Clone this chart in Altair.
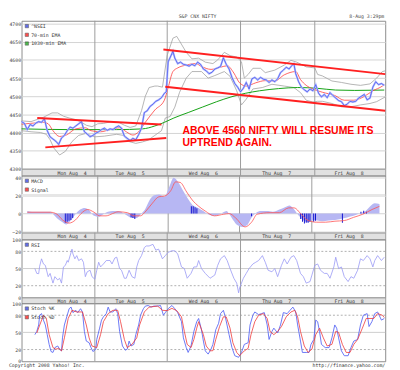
import altair as alt
import pandas as pd

# ---------------- data (x = intraday bar number, Monday open = 0) ----------------
X_END = 382
DAY_STARTS = [77, 153, 230, 308]
DAY_LABEL_BARS = [53, 114, 191, 268, 344]
DAY_LABELS = ["Mon Aug\u00a0 4", "Tue Aug\u00a0 5", "Wed Aug\u00a0 6", "Thu Aug\u00a0 7", "Fri Aug\u00a0 8"]

PRICE_TICKS = [4300, 4350, 4400, 4450, 4500, 4550, 4600, 4650, 4700]
MACD_TICKS = [-20, 0, 20, 40]
OSC_TICKS = [0, 20, 50, 80, 100]
OSC_DASHED = [20, 80]
OSC_SOLID = [50]

PRICE_BARS = [0, 3, 6, 9, 12, 15, 18, 21, 24, 27, 30, 33, 36, 39, 42, 45, 48, 51, 54, 57, 60, 63, 66, 69, 72, 75,
              78, 81, 84, 87, 90, 93, 96, 99, 102, 105, 108, 111, 114, 117, 120, 123, 126, 129, 132, 135, 138, 141, 144, 147, 150, 152,
              154, 157, 159, 161, 164, 167, 170, 173, 176, 179, 182, 185, 188, 191, 194, 197, 200, 203, 206, 209, 212, 215, 218, 221, 224, 227, 230,
              233, 236, 239, 242, 245, 248, 251, 254, 257, 260, 263, 266, 269, 272, 275, 278, 281, 284, 286, 288, 291, 294, 297, 300, 303, 306,
              309, 312, 315, 318, 321, 324, 327, 330, 333, 336, 339, 342, 345, 348, 351, 354, 357, 360, 363, 366, 369, 372, 375, 378, 381]
PRICE = [4430, 4425, 4408, 4422, 4418, 4426, 4430, 4428, 4438, 4405, 4388, 4382, 4376, 4367, 4385, 4392, 4405, 4415, 4412, 4418, 4424, 4430, 4402, 4396, 4388, 4392,
         4398, 4402, 4408, 4412, 4406, 4410, 4408, 4414, 4418, 4412, 4390, 4384, 4378, 4384, 4380, 4394, 4412, 4455, 4460, 4472, 4478, 4486, 4490, 4496, 4508, 4512,
         4595, 4612, 4624, 4605, 4590, 4594, 4588, 4586, 4583, 4588, 4584, 4594, 4588, 4575, 4570, 4562, 4566, 4575, 4578, 4582, 4606, 4588, 4575, 4552, 4535, 4525, 4512,
         4522, 4538, 4520, 4548, 4552, 4545, 4552, 4547, 4545, 4538, 4545, 4540, 4548, 4565, 4572, 4580, 4575, 4585, 4590, 4562, 4540, 4525, 4518, 4512, 4520, 4515,
         4532, 4508, 4498, 4505, 4496, 4510, 4502, 4495, 4488, 4485, 4474, 4478, 4486, 4484, 4486, 4495, 4500, 4505, 4490, 4495, 4525, 4540, 4532, 4535, 4530]

EMA70_BARS = [0, 13, 23, 28, 33, 40, 47, 57, 67, 73, 83, 93, 103, 110, 117, 123, 130, 140, 150, 154,
              159, 164, 173, 183, 189, 199, 209, 216, 223, 229, 236, 246, 256, 266, 276, 288, 293, 299, 306, 316,
              329, 339, 349, 359, 369, 379, 381]
EMA70 = [4423, 4426, 4428, 4424, 4405, 4389, 4393, 4410, 4413, 4405, 4402, 4408, 4413, 4402, 4393, 4402, 4428, 4462, 4489, 4524,
         4568, 4578, 4586, 4590, 4582, 4574, 4580, 4584, 4564, 4537, 4528, 4537, 4543, 4542, 4559, 4568, 4546, 4530, 4520, 4511,
         4502, 4489, 4489, 4498, 4515, 4528, 4532]

EMA1030_BARS = [0, 50, 100, 127, 140, 150, 160, 175, 190, 205, 220, 235, 250, 270, 290, 310, 330, 350, 381]
EMA1030 = [4410, 4408, 4408, 4410, 4418, 4428, 4440, 4455, 4470, 4485, 4498, 4508, 4515, 4521, 4524, 4522, 4517, 4516, 4517]

BB_UP_BARS = [0, 10, 23, 32, 38, 44, 50, 56, 62, 68, 74, 80, 86, 94, 102, 108, 114, 120, 126, 130,
              134, 140, 143, 148, 153, 159, 163, 166, 173, 179, 186, 193, 201, 206, 213, 219, 226, 231, 234, 238,
              243, 251, 256, 266, 276, 283, 289, 299, 308, 311, 316, 326, 336, 346, 356, 366, 373, 379, 382]
BB_UP = [4432, 4430, 4442, 4454, 4454, 4445, 4440, 4436, 4430, 4420, 4416, 4424, 4425, 4430, 4428, 4420, 4414, 4418, 4460, 4500,
         4524, 4528, 4528, 4525, 4613, 4660, 4665, 4652, 4621, 4603, 4605, 4594, 4590, 4600, 4621, 4612, 4608, 4595, 4550, 4560,
         4577, 4577, 4565, 4572, 4586, 4599, 4594, 4581, 4578, 4560, 4556, 4542, 4538, 4533, 4530, 4534, 4550, 4568, 4570]

BB_LO_BARS = [0, 10, 20, 26, 30, 34, 40, 46, 53, 60, 67, 77, 87, 100, 107, 113, 120, 127, 133, 140,
              147, 151, 156, 161, 166, 173, 179, 189, 196, 203, 213, 219, 226, 231, 236, 243, 253, 263, 276, 286,
              293, 299, 306, 311, 316, 326, 336, 346, 356, 366, 373, 382]
BB_LO = [4405, 4402, 4400, 4395, 4380, 4357, 4338, 4348, 4375, 4392, 4397, 4388, 4390, 4395, 4392, 4375, 4370, 4374, 4379, 4392,
         4405, 4440, 4444, 4470, 4511, 4550, 4568, 4568, 4550, 4557, 4568, 4555, 4515, 4476, 4492, 4520, 4524, 4533, 4528, 4524,
         4510, 4489, 4484, 4486, 4486, 4480, 4471, 4471, 4476, 4480, 4485, 4498]

TREND_ID = [1, 1, 2, 2, 3, 3, 4, 4]
TREND_BARS = [16.5, 147, 25, 152, 149, 382, 151, 382]
TREND_PRICE = [4440, 4422, 4359, 4385, 4629, 4561, 4526, 4460]

ANNOT_TEXT = ["ABOVE 4560 NIFTY WILL RESUME ITS", "UPTREND AGAIN."]
ANNOT_BARS = [169, 169]
ANNOT_PRICE = [4395, 4363]

MACD_BARS = [1, 6, 16, 26, 29, 34, 39, 43, 48, 53, 58, 63, 68, 73, 78, 83, 88, 93, 99, 104,
             109, 114, 119, 124, 128, 133, 138, 143, 149, 154, 159, 164, 169, 174, 179, 186, 191, 196, 203, 209,
             216, 219, 223, 228, 233, 238, 243, 248, 253, 259, 266, 273, 279, 284, 289, 294, 299, 304, 309, 314,
             319, 326, 333, 339, 346, 353, 359, 366, 371, 376, 381]
MACD = [2.8, 2, 2, 2, -0.7, -6, -9.5, -12, -7.7, -0.7, 4.5, 6.3, 3.5, -2.5, -3.5, -0.7, 2, 2.8, 2.8, 1,
        -2.5, -5, -5, 0, 4.5, 15, 20.3, 21, 18.6, 29, 39.6, 34.4, 25.6, 16.8, 9.8, 6, 2.8, -0.7, -2.5, -0.7,
        2.8, -0.7, -7, -13, -14.7, -13, -4.2, 1, 2.8, 2.8, 2, 4.5, 7, 9, 4.5, -2.5, -7.7, -9.5, -7, -7.7,
        -8.4, -7.7, -7, -6, -4.2, -2.5, 0, 2.8, 8, 11.5, 10.5]

SIGNAL_BARS = [1, 26, 33, 39, 46, 53, 59, 66, 73, 79, 86, 93, 99, 109, 116, 123, 129, 136, 143, 149,
               156, 161, 166, 173, 179, 186, 193, 203, 213, 219, 226, 236, 243, 249, 263, 273, 283, 289, 296, 303,
               313, 323, 333, 343, 353, 363, 373, 381]
SIGNAL = [1.5, 1.5, -0.7, -7, -10.5, -7, 0, 4.5, 1.5, -2.5, -2.5, 0, 2, 1, -2.5, -2.5, 2.8, 11.5, 18.6, 19.3,
          25.6, 35, 34.4, 23.8, 15, 8, 2.8, -2.5, -0.7, 0, -5, -14.7, -9.5, -0.7, 1, 1, 6.3, 6.3, 0, -7,
          -9.5, -9.5, -8.4, -7.7, -4.2, -0.7, 4.5, 8]

HIST_BARS = [42, 44, 46, 48, 50, 113, 115, 117, 178, 180, 182, 184, 243, 296, 298, 300, 302, 304, 306, 310, 312, 341, 361, 364, 367]
HIST = [-10, -9, -8, -7, -5, -4, -5, -6, 8, 8, 7, 6, -3, -6, -9, -11, -10, -10, -9, -9, -8, -10, 2, 3, 2]

RSI_BARS = [14, 16, 18, 19, 21, 23, 25, 28, 30, 33, 35, 38, 40, 42, 44, 46, 48, 49, 53, 54,
            56, 58, 60, 63, 65, 67, 69, 72, 74, 77, 79, 81, 83, 86, 89, 93, 95, 98, 100, 103,
            105, 108, 110, 113, 116, 119, 121, 123, 126, 129, 131, 134, 138, 141, 144, 148, 151, 154, 158, 161,
            164, 168, 171, 174, 178, 181, 184, 186, 189, 193, 198, 203, 206, 209, 213, 216, 219, 223, 226, 228,
            229, 233, 236, 239, 243, 246, 249, 253, 256, 259, 263, 266, 269, 273, 276, 279, 283, 286, 289, 293,
            296, 299, 303, 305, 308, 311, 314, 318, 321, 324, 328, 330, 333, 336, 339, 343, 346, 349, 353, 356,
            359, 363, 366, 369, 371, 374, 378, 381]
RSI = [50, 41.5, 41, 54, 67, 58, 55.5, 35.8, 41.5, 24.5, 35.8, 30, 33, 24.5, 52.8, 55.5, 64, 61, 83.9, 75.5,
       67, 72.6, 64, 67, 61, 35.8, 44.3, 47, 35.8, 31.3, 47, 61, 52.8, 58, 64, 64, 58, 68.5, 69.8, 50,
       47, 33, 33, 47, 35.8, 33, 52.8, 64, 72.6, 86.7, 89.5, 89.5, 92.3, 82.2, 83.9, 67, 72.6, 78.3, 81.1, 81,
       75.5, 52.8, 50, 33, 41.5, 52.8, 52.8, 64, 50, 41.5, 33, 38.6, 55.5, 67, 72.6, 64, 50, 33, 24.5, 7.5,
       16, 33, 41.5, 50, 58, 61, 64, 72.6, 61, 47, 44.3, 50, 35.8, 55.5, 67, 58, 69.8, 72.6, 64, 41.5,
       35.8, 24.5, 27.2, 38.6, 55.5, 58, 47, 41.5, 41.5, 33, 52.8, 69.8, 50, 52.8, 35.8, 27.2, 35.8, 33, 47, 67,
       64, 72.6, 67, 52.8, 64, 72.6, 64, 69.8]

STK_BARS = [14, 16, 18, 19, 21, 23, 25, 27, 29, 31, 33, 35, 38, 40, 42, 43, 45, 48, 50, 52,
            54, 57, 59, 62, 64, 66, 68, 71, 73, 75, 78, 79, 82, 84, 86, 89, 91, 93, 96, 99,
            101, 103, 106, 109, 111, 113, 115, 118, 120, 123, 125, 128, 130, 133, 136, 139, 143, 146, 149, 151,
            154, 158, 161, 164, 168, 170, 173, 175, 178, 181, 184, 186, 189, 191, 193, 196, 199, 201, 204, 207,
            209, 212, 214, 218, 221, 224, 228, 231, 234, 238, 240, 243, 245, 249, 252, 255, 258, 260, 263, 265,
            269, 272, 275, 279, 282, 285, 288, 290, 293, 295, 299, 302, 304, 307, 309, 311, 313, 315, 319, 323,
            326, 329, 331, 333, 336, 339, 343, 346, 349, 353, 356, 359, 363, 365, 368, 371, 374, 378, 381]
STK = [46, 51.7, 63, 80, 82.8, 71.5, 63, 46, 29, 16.5, 14.9, 23.4, 26.2, 20.6, 17.7, 40.4, 63, 80, 91.4, 94.2,
       84.6, 88.6, 84.6, 91.4, 85.7, 51.7, 34.8, 31.9, 23.4, 16.5, 20.6, 37.6, 57.4, 71.5, 77.2, 82.8, 94.2, 85.7, 85.7, 91.4,
       82.8, 51.7, 26.2, 18.8, 20.6, 34.8, 26.2, 29, 46, 63, 80, 91.4, 95.9, 97, 94.2, 96, 96, 97, 80, 84.6,
       91.4, 97, 91.4, 84.6, 68.7, 40.4, 23.4, 14.9, 26.2, 51.7, 68.7, 74.3, 54.5, 34.8, 17.7, 12, 20.6, 29, 54.5, 65.9,
       82.8, 88.6, 77.2, 46, 23.4, 9.2, 6.4, 14.9, 29, 31.9, 63, 80, 85.7, 81.1, 82.8, 84.6, 63, 37.6, 51.7, 57.4,
       48.9, 63, 84.6, 82.8, 88.6, 94.2, 85.7, 63, 34.8, 14.9, 14.9, 14.9, 29, 37.6, 71.5, 68.7, 51.7, 29, 23.4, 23.4,
       40.4, 63, 57.4, 40.4, 17.7, 9.2, 9.2, 23.4, 34.8, 37.6, 63, 80, 82.8, 60.2, 68.7, 82.8, 85.7, 71.5, 74.3]

STD_BARS = [16, 23, 26, 29, 33, 36, 39, 42, 45, 49, 53, 58, 64, 68, 71, 74, 79, 83, 86, 91,
            96, 101, 104, 108, 111, 116, 121, 124, 129, 134, 143, 148, 153, 158, 163, 168, 171, 174, 178, 181,
            184, 186, 191, 194, 198, 201, 204, 208, 212, 215, 219, 222, 226, 229, 234, 238, 241, 245, 249, 254,
            258, 261, 265, 269, 273, 278, 283, 287, 290, 293, 297, 301, 305, 309, 313, 317, 321, 326, 330, 333,
            337, 341, 345, 349, 353, 358, 362, 366, 370, 374, 379, 381]
STD = [48.9, 80, 75, 46, 23.4, 20.6, 22, 17.7, 40.4, 74.3, 88.6, 85.7, 85.7, 63, 40.4, 26.2, 23.4, 46, 68.7, 82.8,
       88.6, 88.6, 68.7, 37.6, 23.4, 29, 40.4, 63, 85.7, 94.2, 96, 88.6, 88, 92, 88, 77.2, 51.7, 29, 23.4, 37.6,
       57.4, 68.7, 46, 26.2, 17.7, 18, 37.6, 60.2, 77.2, 77, 57.4, 31.9, 14.9, 9.2, 17.7, 22, 46, 68.7, 80, 82.8,
       74.3, 51.7, 46, 51.7, 60.2, 77.2, 85.7, 88.6, 77.2, 51.7, 26.2, 14.9, 20.6, 46, 57.4, 40.4, 26.2, 29, 51.7, 50,
       29, 14.9, 14.9, 29, 37.6, 57.4, 74.3, 74.3, 74.3, 82.8, 80, 76]

PRICE_LEGEND = ["^NSEI", "70-min EMA", "1030-min EMA"]
MACD_LEGEND = ["MACD", "Signal"]
RSI_LEGEND = ["RSI"]
STOCH_LEGEND = ["Stoch %K", "Stoch %D"]

# ---------------- styling ----------------
FONT = "DejaVu Sans Mono"
W = 376
BLUE = "#1f2fe0"
RED = "#ff2020"
GREEN = "#10a010"
BORDER = "#8a8a8a"
xs = alt.Scale(domain=[0, X_END], nice=False, zero=False)


def X(field="bar"):
    return alt.X(f"{field}:Q", scale=xs, axis=None)


def yaxis(ticks, grid, fmt=None):
    kw = dict(values=ticks, grid=grid, labelOverlap=False, labelFont=FONT, labelFontSize=5,
              labelColor="#444", ticks=False, domain=False, labelPadding=1,
              gridColor="#d2d2d2", gridWidth=1)
    if fmt:
        kw["format"] = fmt
    return alt.Axis(**kw)


def sep_layer():
    return alt.Chart(pd.DataFrame({"bar": DAY_STARTS})).mark_rule(color="#9a9a9a", strokeWidth=1).encode(x=X())


def series_df(bars, vals):
    return pd.DataFrame({"bar": bars, "v": vals})


def legend_layer(names, colors, ys, yval):
    df = pd.DataFrame({"series": names, "bar": [-20] * len(names), "v": [yval] * len(names)})
    return alt.Chart(df).mark_square(clip=True).encode(
        x=X(), y=ys,
        color=alt.Color("series:N", scale=alt.Scale(domain=names, range=colors),
                        legend=alt.Legend(orient="top-left", title=None, offset=2, padding=1,
                                          labelFont=FONT, labelFontSize=5, labelColor="#333",
                                          symbolType="square", symbolSize=12, symbolStrokeColor="#222",
                                          symbolStrokeWidth=0.6, rowPadding=2, labelOffset=2)))


# ---------------- price panel ----------------
yP = alt.Scale(domain=[4300, 4708], nice=False, zero=False)
YP = alt.Y("v:Q", scale=yP, title=None, axis=yaxis(PRICE_TICKS, True, "d"))

bb = pd.concat([series_df(BB_UP_BARS, BB_UP).assign(k="up"), series_df(BB_LO_BARS, BB_LO).assign(k="lo")])
trend = pd.DataFrame({"id": TREND_ID, "bar": TREND_BARS, "v": TREND_PRICE})
annot = pd.DataFrame({"t": ANNOT_TEXT, "bar": ANNOT_BARS, "v": ANNOT_PRICE})
pdf = series_df(PRICE_BARS, PRICE)

price = alt.layer(
    sep_layer(),
    alt.Chart(bb).mark_line(color="#a0a0a0", strokeWidth=0.8).encode(x=X(), y=YP, detail="k:N"),
    alt.Chart(series_df(EMA1030_BARS, EMA1030)).mark_line(color=GREEN, strokeWidth=1, interpolate="monotone").encode(x=X(), y=YP),
    alt.Chart(series_df(EMA70_BARS, EMA70)).mark_line(color="#ff3a3a", strokeWidth=0.8, interpolate="monotone").encode(x=X(), y=YP),
    alt.Chart(pdf).mark_line(color="#b4bbff", strokeWidth=2).encode(x=X(), y=YP),
    alt.Chart(pdf).mark_line(color="#2a3be6", strokeWidth=0.6).encode(x=X(), y=YP),
    alt.Chart(trend).mark_line(color=RED, strokeWidth=2).encode(x=X(), y=YP, detail="id:N"),
    alt.Chart(annot).mark_text(font="Liberation Sans", fontWeight="bold", fontSize=10.8, color="#ff0000",
                               align="left", baseline="alphabetic").encode(x=X(), y=YP, text="t:N"),
    legend_layer(PRICE_LEGEND, [BLUE, "#ff0000", "#00a000"], YP, 4500),
    alt.Chart(pd.DataFrame({"t": ["S&P CNX NIFTY"]})).mark_text(font=FONT, fontSize=5, color="#444", baseline="bottom").encode(
        text="t:N", x=alt.value(182), y=alt.value(-1.5)),
    alt.Chart(pd.DataFrame({"t": ["8-Aug 3:29pm"]})).mark_text(font=FONT, fontSize=5, color="#444", baseline="bottom", align="right").encode(
        text="t:N", x=alt.value(W - 1), y=alt.value(-1.5)),
).properties(width=W, height=153, view=alt.ViewBackground(stroke=BORDER))


# ---------------- date bands ----------------
def band(h):
    lab = pd.DataFrame({"bar": DAY_LABEL_BARS, "t": DAY_LABELS})
    return alt.layer(
        sep_layer(),
        alt.Chart(lab).mark_text(font=FONT, fontSize=5, color="#333", baseline="middle").encode(
            x=X(), y=alt.value(h / 2 + 0.5), text="t:N"),
    ).properties(width=W, height=h, view=alt.ViewBackground(fill="#e1e1e1", stroke="#999999", strokeWidth=1))


# ---------------- MACD panel ----------------
yM = alt.Scale(domain=[-21, 42], nice=False, zero=False)
YM = alt.Y("v:Q", scale=yM, title=None, axis=yaxis(MACD_TICKS, True))
macd = alt.layer(
    alt.Chart(pd.DataFrame({"v": [20]})).mark_rule(color="#e6e6e6", strokeWidth=3).encode(y=YM),
    sep_layer(),
    alt.Chart(series_df(MACD_BARS, MACD)).mark_area(color="#b7b7f3", opacity=1, interpolate="monotone").encode(
        x=X(), y=YM, y2=alt.datum(0)),
    alt.Chart(series_df(HIST_BARS, HIST)).mark_bar(color="#1010d0", width=1).encode(x=X(), y=YM, y2=alt.datum(0)),
    alt.Chart(series_df(SIGNAL_BARS, SIGNAL)).mark_line(color="#ff5050", strokeWidth=0.8, interpolate="monotone").encode(x=X(), y=YM),
    legend_layer(MACD_LEGEND, [BLUE, "#ff0000"], YM, 0),
).properties(width=W, height=59, view=alt.ViewBackground(stroke=BORDER))


# ---------------- oscillator panels ----------------
def osc_panel(layers, legend_names, legend_colors):
    yO = alt.Scale(domain=[-0.5, 101], nice=False, zero=False)
    YO = alt.Y("v:Q", scale=yO, title=None, axis=yaxis(OSC_TICKS, False))
    base = [
        alt.Chart(pd.DataFrame({"v": OSC_SOLID})).mark_rule(color="#cccccc", strokeWidth=1).encode(y=YO),
        alt.Chart(pd.DataFrame({"v": OSC_DASHED})).mark_rule(color="#9a9a9a", strokeWidth=0.8, strokeDash=[2, 2]).encode(y=YO),
        sep_layer(),
    ]
    lines = [alt.Chart(df).mark_line(color=c, strokeWidth=w).encode(x=X(), y=YO) for df, c, w in layers]
    return alt.layer(*base, *lines, legend_layer(legend_names, legend_colors, YO, 50)).properties(
        width=W, height=60, view=alt.ViewBackground(stroke=BORDER))


rsi = osc_panel([(series_df(RSI_BARS, RSI), "#9898f4", 0.8)], RSI_LEGEND, [BLUE])
stoch = osc_panel([(series_df(STK_BARS, STK), "#5766f5", 0.9), (series_df(STD_BARS, STD), "#f03535", 0.8)],
                  STOCH_LEGEND, [BLUE, "#ff0000"])

# ---------------- footer ----------------
footer = alt.layer(
    alt.Chart(pd.DataFrame({"t": ["Copyright 2008 Yahoo! Inc."]})).mark_text(
        font=FONT, fontSize=5, color="#333", align="left", baseline="middle").encode(
        text="t:N", x=alt.value(-13), y=alt.value(4)),
    alt.Chart(pd.DataFrame({"t": ["http://finance.yahoo.com/"]})).mark_text(
        font=FONT, fontSize=5, color="#333", align="right", baseline="middle").encode(
        text="t:N", x=alt.value(W), y=alt.value(4)),
).properties(width=W, height=7, view=alt.ViewBackground(stroke="transparent"))

chart = alt.vconcat(
    price, band(7), macd, band(7), rsi, band(6), stoch, footer,
    spacing=0, bounds="flush",
).resolve_scale(y="independent", color="independent").resolve_legend(color="independent").properties(
    padding={"left": 0, "top": 0, "right": 2, "bottom": 0}, background="white"
)

chart.save("out.html", embed_options={"renderer": "svg", "actions": False})
